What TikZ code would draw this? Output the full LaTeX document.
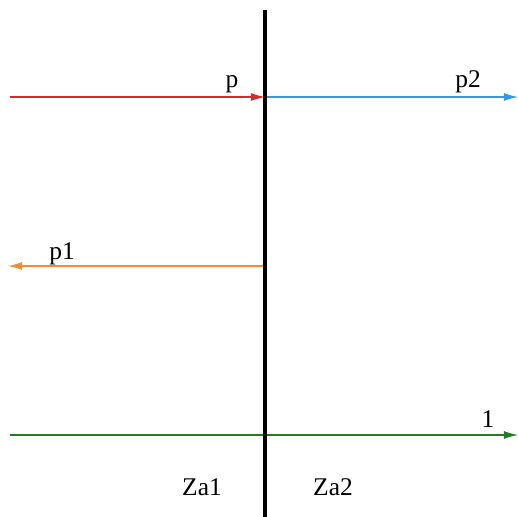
\documentclass[tikz,border=0pt]{standalone}
\usepackage{fontspec}
\setmainfont{Liberation Serif}
\usetikzlibrary{arrows.meta, positioning}
\definecolor{inred}{RGB}{226,36,44}
\definecolor{outblue}{RGB}{51,153,230}
\definecolor{backorange}{RGB}{242,142,48}
\definecolor{unitgreen}{RGB}{34,125,34}

\begin{document}
\begin{tikzpicture}[
  x=0.02cm, y=-0.02cm,
  lbl/.style={font=\fontsize{14.5}{16}\selectfont, inner sep=0pt, anchor=base},
  vec/.style={-{Latex[length=8pt, width=4.5pt]}, line width=0.6pt},
  wall/.style={line width=2pt, black},
]
\useasboundingbox (0,0) rectangle (518,517);

%% End points
\coordinate (Wtop) at (265,10);
\coordinate (Wbot) at (265,517);
\coordinate (Pin)  at (10,97);
\coordinate (Phit) at (265,97);
\coordinate (Pout) at (518,97);
\coordinate (Rst)  at (265,266);
\coordinate (Rend) at (8,266);
\coordinate (Ust)  at (10,435);
\coordinate (Uend) at (518,435);

%% Vectors
\draw[vec, inred]      (Pin)  -- (Phit);
\draw[vec, outblue]    (Phit) -- (Pout);
\draw[vec, backorange] (Rst)  -- (Rend);
\draw[vec, unitgreen]  (Ust)  -- (Uend);

%% Interface
\draw[wall] (Wtop) -- (Wbot);

%% Labels
\node[lbl] (lp)   at (232,88)  {p};
\node[lbl] (lp2)  at (468,88)  {p2};
\node[lbl] (lp1)  at (62,260)  {p1};
\node[lbl] (lone) at (488,427) {1};
\node[lbl] (lza1) at (202,495) {Za1};
\node[lbl] (lza2) at (333,495) {Za2};

\end{tikzpicture}
\end{document}
